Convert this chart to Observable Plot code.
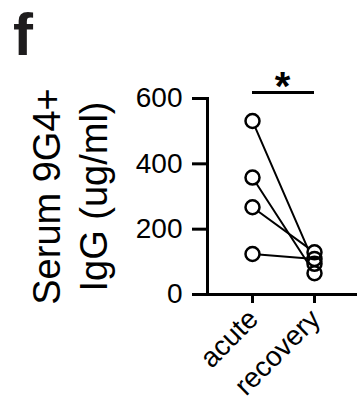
<!DOCTYPE html>
<html><head><meta charset="utf-8">
<script src="https://cdn.jsdelivr.net/npm/d3@7"></script>
<script src="https://cdn.jsdelivr.net/npm/@observablehq/plot@0.6"></script>
<style>
html,body{margin:0;padding:0;background:#fff;}
#panel{font-family:"Liberation Sans",Arial,Helvetica,sans-serif;font-weight:bold;font-size:60px;line-height:normal;height:67px;padding-left:13px;color:#1e1c1d;}
#chart svg{display:block;}
</style></head><body>
<div id="panel"></div>
<div id="chart"></div>
<script>
const panelLabel = "f";
const timepoints = ["acute", "recovery"];
const acuteValues = [531, 358, 267, 124];
const recoveryValues = [94, 65, 129, 109];
const yTicks = [0, 200, 400, 600];
const yTitleLines = ["Serum 9G4+", "IgG (ug/ml)"];
const sigLabel = "*";
const sigLevel = 618;

document.getElementById("panel").textContent = panelLabel;

const data = [];
acuteValues.forEach((v, i) => {
  data.push({subject: i, time: timepoints[0], value: v});
  data.push({subject: i, time: timepoints[1], value: recoveryValues[i]});
});

const font = "'Liberation Sans', Arial, Helvetica, sans-serif";
const chart = Plot.plot({
  width: 357, height: 337,
  marginLeft: 207, marginRight: 0, marginTop: 31, marginBottom: 110,
  style: {fontFamily: font, fontSize: "28px", color: "#000", background: "#fff", overflow: "visible"},
  x: {type: "point", domain: timepoints, padding: 0.7, align: 0.51},
  y: {domain: [0, 600]},
  marks: [
    Plot.axisY({ticks: yTicks, tickSize: 15, tickPadding: 10, strokeWidth: 3, fontSize: 28, label: null}),
    Plot.axisX({tickSize: 9, strokeWidth: 3, fill: "none", label: null}),
    Plot.axisX({tickSize: 0, tickPadding: 20, tickRotate: -45, fontSize: 28, dx: 1, label: null}),
    Plot.frame({anchor: "left", strokeWidth: 3, strokeLinecap: "square"}),
    Plot.ruleY([0], {strokeWidth: 3}),
    Plot.line(data, {x: "time", y: "value", z: "subject", stroke: "#000", strokeWidth: 2}),
    Plot.dot(data, {x: "time", y: "value", r: 7, fill: "#fff", stroke: "none"}),
    Plot.dot(data, {x: "time", y: "value", r: 7, fill: "none", stroke: "#000", strokeWidth: 2.5}),
    Plot.ruleY([sigLevel], {x1: () => timepoints[0], x2: () => timepoints[1], strokeWidth: 3}),
    Plot.text([sigLabel], {y: sigLevel, frameAnchor: "middle", text: d => d, fontSize: 40, fontWeight: "bold", dy: -5}),
    Plot.text([yTitleLines[0]], {frameAnchor: "left", textAnchor: "middle", text: d => d, rotate: -90, fontSize: 38, dx: -159.5}),
    Plot.text([yTitleLines[1]], {frameAnchor: "left", textAnchor: "middle", text: d => d, rotate: -90, fontSize: 38, dx: -113})
  ]
});
document.getElementById("chart").appendChild(chart);
</script>
</body></html>
